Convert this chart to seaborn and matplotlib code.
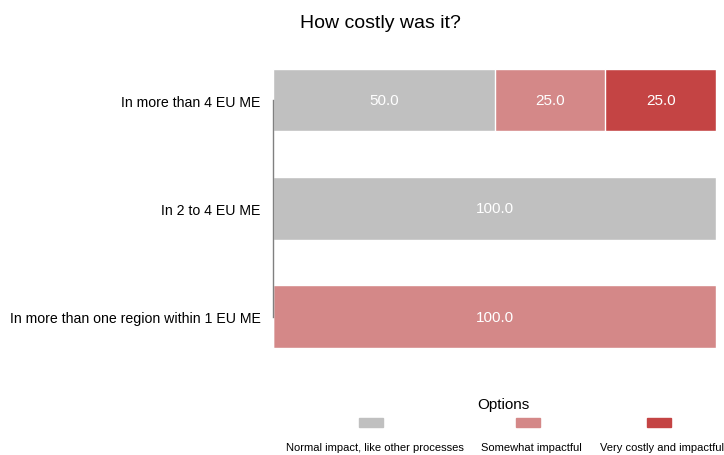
import matplotlib.pyplot as plt
import matplotlib.patches as mpatches
import pandas as pd
import seaborn as sns

categories = ['In more than 4 EU ME', 'In 2 to 4 EU ME', 'In more than one region within 1 EU ME']
options = ['Normal impact, like other processes', 'Somewhat impactful', 'Very costly and impactful']
normal = [50.0, 100.0, 0.0]
somewhat = [25.0, 0.0, 100.0]
very = [25.0, 0.0, 0.0]
colors = ['#c0c0c0', '#d48888', '#c44444']

sns.set_style('white')
plt.rcParams['font.family'] = ['Liberation Sans', 'DejaVu Sans']
plt.rcParams['text.color'] = 'black'
plt.rcParams['ytick.color'] = 'black'

df = pd.DataFrame({'cat': categories, 'normal': normal, 'somewhat': somewhat, 'very': very})
df['c1'] = df['normal']
df['c2'] = df['c1'] + df['somewhat']
df['c3'] = df['c2'] + df['very']

fig = plt.figure(figsize=(7.24, 4.56), dpi=100)
ax = fig.add_axes([273 / 724, 0.185, 443 / 724, 0.712])

# stacked bars: draw cumulative totals, largest first
for col, c in zip(['c3', 'c2', 'c1'], colors[::-1]):
    sns.barplot(data=df, x=col, y='cat', orient='h', color=c, width=0.58,
                edgecolor='white', linewidth=1, saturation=1, ax=ax)

# segment labels
for i in range(len(categories)):
    left = 0
    for v in [normal[i], somewhat[i], very[i]]:
        if v > 0:
            ax.text(left + v / 2, i, f'{v:.1f}', ha='center', va='center',
                    color='white', fontsize=11)
        left += v

ax.set_xlim(0, 100)
ax.set_ylim(2.5, -0.5)
ax.set_xlabel('')
ax.set_ylabel('')
ax.set_xticks([])
ax.tick_params(axis='y', length=0, labelsize=10.2, pad=9)
for s in ['top', 'right', 'bottom']:
    ax.spines[s].set_visible(False)
ax.spines['left'].set_bounds(0, 2)
ax.spines['left'].set_color('#808080')
ax.spines['left'].set_linewidth(1)

fig.text(380 / 724, 1 - 23 / 456, 'How costly was it?', ha='center', va='center', fontsize=14)

# legend with swatches above labels
fig.text(503 / 724, 1 - 405 / 456, 'Options', ha='center', va='center', fontsize=11)
sw_x = [371, 528, 659]
lab_x = [375, 531, 662]
for sx, lx, c, lab in zip(sw_x, lab_x, colors, options):
    fig.add_artist(mpatches.Rectangle(((sx - 12) / 724, 1 - 428 / 456), 24 / 724, 9 / 456,
                                      transform=fig.transFigure, color=c))
    fig.text(lx / 724, 1 - 448 / 456, lab, ha='center', va='center', fontsize=8)

plt.savefig('out.png', dpi=100)
